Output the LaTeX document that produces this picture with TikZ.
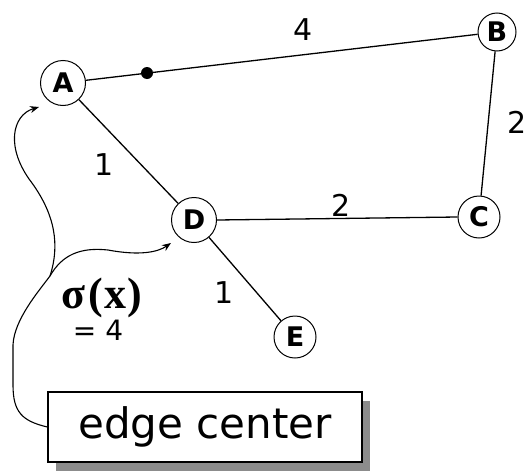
\documentclass[tikz,border=0pt]{standalone}
\usepackage{fontspec}
\setmainfont{DejaVu Sans}
\newfontfamily\sigmafont{Liberation Serif}
\usetikzlibrary{arrows.meta,calc,shadows}
\begin{document}
\begin{tikzpicture}[x=1pt,y=-1pt,
  vertex/.style={circle,draw,line width=1pt,minimum size=45pt,inner sep=0pt,font=\fontsize{27}{27}\selectfont\bfseries},
  edgeline/.style={line width=1.3pt},
  wlabel/.style={inner sep=0pt,font=\fontsize{30}{30}\selectfont},
  pointer/.style={line width=1.1pt,-{Stealth[length=9pt,width=7pt]}},
  callout/.style={draw,line width=1.3pt,fill=white,minimum width=314pt,minimum height=70pt,inner sep=0pt,
    font=\fontsize{42}{42}\selectfont,
    drop shadow={shadow xshift=8pt,shadow yshift=-9pt,fill=black!45,opacity=1}}
]
\useasboundingbox (0,0) rectangle (532,474);
\node[vertex] (A) at (63,83) {A};
\node[vertex,minimum size=38pt] (B) at (497,32) {B};
\node[vertex,minimum size=42pt] (C) at (479,217) {C};
\node[vertex] (D) at (194,220) {D};
\node[vertex,minimum size=42pt] (E) at (295,337) {E};
\draw[edgeline] (A) -- (B);
\draw[edgeline] (A) -- (D);
\draw[edgeline] (B) -- (C);
\draw[edgeline] (D.east) -- (C.west);
\draw[edgeline] (D) -- (E);
\node[circle,fill,inner sep=0pt,minimum size=12pt] (dot) at (147,73) {};
\node[wlabel] (l4) at (303,30) {4};
\node[wlabel] (l2a) at (517,122) {2};
\node[wlabel] (l2b) at (341,205) {2};
\node[wlabel] (l1a) at (104,165) {1};
\node[wlabel] (l1b) at (224,293) {1};
\node[inner sep=0pt,font=\sigmafont\bfseries\fontsize{44}{44}\selectfont] (sig) at (102,298) {σ\kern3pt(\kern1pt x\kern1pt)};
\node[inner sep=0pt,font=\fontsize{28}{28}\selectfont] (eq) at (98,330) {= 4};
\node[callout] (box) at (205,427) {edge center};
\coordinate (J) at (50,276);
\coordinate (tA) at (39,107);
\coordinate (tD) at (171,243);
\draw[line width=1.1pt] (box.west) .. controls (22,421) and (13,412) .. (13,385) -- (13,345)
  .. controls (14,320) and (38,292) .. (J);
\draw[pointer] (J) .. controls (60,245) and (55,215) .. (32,183)
  .. controls (5,148) and (12,115) .. (tA);
\draw[pointer] (J) .. controls (62,255) and (80,247) .. (108,250)
  .. controls (140,256) and (158,252) .. (tD);
\end{tikzpicture}
\end{document}
